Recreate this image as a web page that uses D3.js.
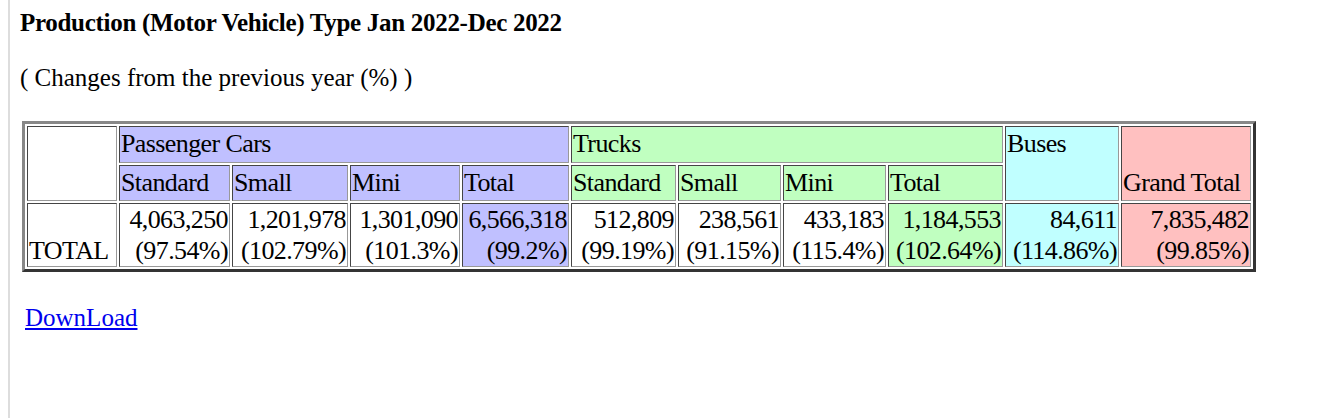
<!DOCTYPE html>
<html><head><meta charset="utf-8">
<script src="https://cdn.jsdelivr.net/npm/d3@7"></script>
<style>
body{margin:0;background:#fff;font-family:"Liberation Serif","Times New Roman",serif;font-size:26px;color:#000;}
#page{position:absolute;left:8px;top:0;width:1328px;height:418px;border-left:2px solid #ddd;}
h1{position:absolute;left:10px;top:9px;margin:0;font-size:25px;font-weight:bold;letter-spacing:-0.3px;}
.sub{position:absolute;left:10px;top:64px;font-size:25px;}
table{position:absolute;left:12px;top:121px;border-collapse:separate;border-spacing:2px;border:3px outset #888;table-layout:fixed;}
td{box-sizing:border-box;border:1px inset #999;padding:0 1px;line-height:34px;white-space:nowrap;vertical-align:bottom;overflow:hidden;letter-spacing:-0.6px;}
td.n{text-align:right;line-height:31px;vertical-align:top;}
a{position:absolute;left:15px;top:304px;color:#0000ee;font-size:25px;}
</style></head><body>
<div id="page"></div>
<script>
const groups = ["Passenger Cars","Trucks","Buses","Grand Total"];
const subCats = ["Standard","Small","Mini","Total"];
const rowLabel = "TOTAL";
const values = [4063250,1201978,1301090,6566318,512809,238561,433183,1184553,84611,7835482];
const changes = ["97.54","102.79","101.3","99.2","99.19","91.15","115.4","102.64","114.86","99.85"];
const colors = {pc:"#c0c0ff",tr:"#c0ffc0",bu:"#c0ffff",gt:"#ffc0c0",w:"#fff"};
const widths = [90,111,116,110,107,105,103,103,115,114,130];
const cellColor = ["w","w","w","pc","w","w","w","tr","bu","gt"];

const page = d3.select("#page");
page.append("h1").text("Production (Motor Vehicle) Type Jan 2022-Dec 2022");
page.append("div").attr("class","sub").text("( Changes from the previous year (%) )");
const t = page.append("table");
const cg = t.append("colgroup");
widths.forEach(w=>cg.append("col").style("width",w+"px"));
const r1 = t.append("tr").style("height","37px");
r1.append("td").attr("rowspan",2);
r1.append("td").attr("colspan",4).style("background",colors.pc).style("vertical-align","top").text(groups[0]);
r1.append("td").attr("colspan",4).style("background",colors.tr).style("vertical-align","top").text(groups[1]);
r1.append("td").attr("rowspan",2).style("background",colors.bu).style("vertical-align","top").text(groups[2]);
r1.append("td").attr("rowspan",2).style("background",colors.gt).text(groups[3]);
const r2 = t.append("tr").style("height","36px");
[...subCats,...subCats].forEach((s,i)=>{
  r2.append("td").style("background",i<4?colors.pc:colors.tr).text(s);
});
const r3 = t.append("tr");
r3.append("td").style("line-height","31px").text(rowLabel);
const fmt = d3.format(",");
values.forEach((v,i)=>{
  const td = r3.append("td").attr("class","n").style("background",colors[cellColor[i]]);
  td.append("div").text(fmt(v));
  td.append("div").text("("+changes[i]+"%)");
});
page.append("a").attr("href","#").text("DownLoad");
</script></body></html>
